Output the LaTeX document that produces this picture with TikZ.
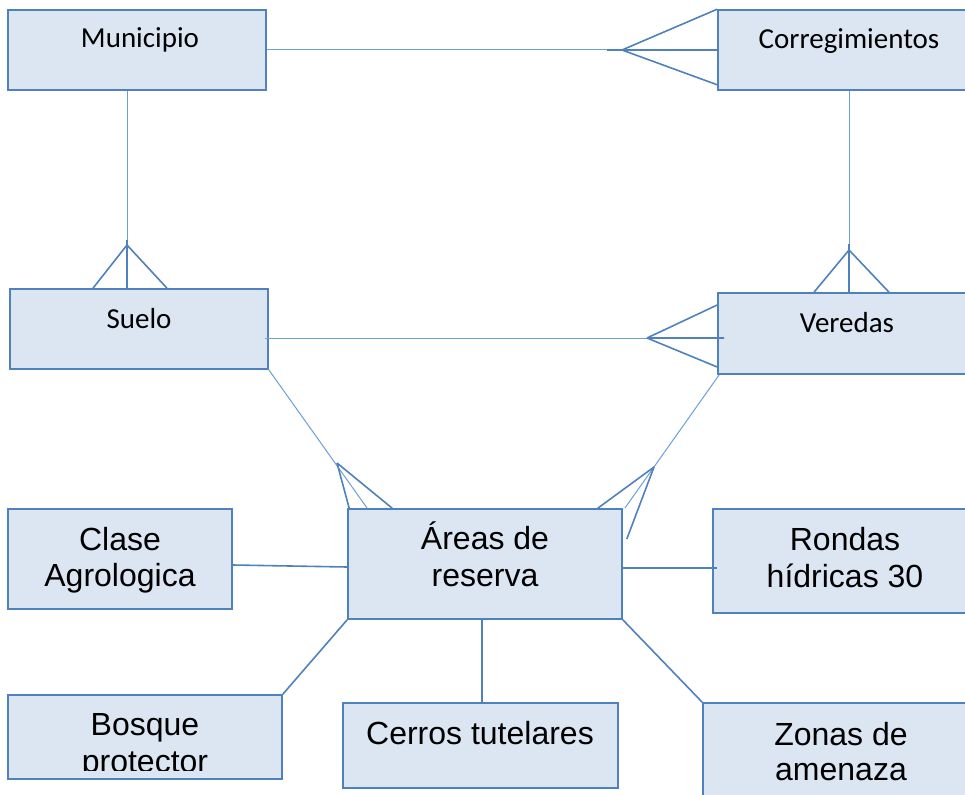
\documentclass[tikz,border=0pt]{standalone}
\usepackage{fontspec}
\setmainfont{Liberation Sans}
\newfontfamily\calibri{Carlito}
\usetikzlibrary{calc}
\definecolor{cajafondo}{HTML}{DCE6F2}
\definecolor{cajaborde}{HTML}{4F81BD}
\definecolor{lineaclara}{HTML}{6A9FD8}
\tikzset{
  entidad/.style={draw=cajaborde, fill=cajafondo, line width=1.6, inner sep=0},
  txtsup/.style={anchor=base, inner sep=0, font=\calibri\fontsize{29}{35}\selectfont},
  txtinf/.style={anchor=base, inner sep=0, font=\fontsize{32}{37}\selectfont},
  rel/.style={draw=lineaclara, line width=1},
  pata/.style={draw=cajaborde, line width=1.6},
  union/.style={draw=cajaborde, line width=1.6}
}

\begin{document}
\begin{tikzpicture}[x=1pt, y=-1pt]
\useasboundingbox (0,0) rectangle (965,794);
\clip (0,0) rectangle (965,794);
% cajas
\node[entidad, minimum width=258, minimum height=80] (municipio) at (137,50) {};
\node[entidad, minimum width=262, minimum height=80] (corregimientos) at (849,50) {};
\node[entidad, minimum width=258, minimum height=80] (suelo) at (139,329) {};
\node[entidad, minimum width=258, minimum height=81] (veredas) at (847,333.5) {};
\node[entidad, minimum width=274, minimum height=110] (areas) at (485,564) {};
\node[entidad, minimum width=224, minimum height=100] (clase) at (120,559) {};
\node[entidad, minimum width=264, minimum height=104] (rondas) at (845,561) {};
\node[entidad, minimum width=274, minimum height=84] (bosque) at (145,737) {};
\node[entidad, minimum width=275, minimum height=85] (cerros) at (480.5,745.5) {};
\node[entidad, minimum width=276, minimum height=104] (zonas) at (841,755) {};
% textos
\foreach \x/\y/\t [count=\i] in {140/48/Municipio, 849/49/Corregimientos, 139/328/Suelo, 847/332/Veredas}
  \node[txtsup] (ts\i) at (\x,\y) {\t};
\foreach \x/\y/\t [count=\i] in {485/549/Áreas de, 485/586/reserva, 120/550/Clase, 120/586/Agrologica,
    845/550/Rondas, 845/587/hídricas 30, 145/735/Bosque, 480/744/Cerros tutelares,
    841/745/Zonas de, 841/780/amenaza}
  \node[txtinf] (ti\i) at (\x,\y) {\t};
\begin{scope}
\clip (bosque.north west) rectangle ([yshift=9]bosque.south east);
\node[txtinf] (protector) at (145,772) {protector};
\end{scope}
% Municipio - Corregimientos
\coordinate (mc) at (622,50);
\draw[rel] (municipio.east) -- (mc);
\draw[pata] (mc) -- (corregimientos.north west) (mc) -- ([yshift=6]corregimientos.south west)
  ([xshift=-15]mc) -- (corregimientos.west);
% Municipio - Suelo
\coordinate (ms) at (127,245);
\draw[rel] (ms |- municipio.south) -- (ms);
\draw[pata] (ms) -- ([xshift=-46]suelo.north) (ms) -- ([xshift=28]suelo.north)
  ([yshift=5]ms) -- (ms |- suelo.north);
% Corregimientos - Veredas
\coordinate (cv) at (849,250);
\draw[rel] (corregimientos.south) -- (cv);
\draw[pata] (cv) -- ([xshift=-33]veredas.north) (cv) -- ([xshift=42]veredas.north)
  ([yshift=6]cv) -- (cv |- veredas.north);
% Suelo - Veredas
\coordinate (sv) at (647,338);
\draw[rel] ($(suelo.east |- sv)+(-4,0)$) -- (sv);
\draw[pata] (sv) -- ([yshift=28.5]veredas.west) (sv) -- ([yshift=-33.5]veredas.west)
  (sv) -- ($(veredas.west |- sv)+(7,0)$);
% Suelo - Areas
\coordinate (sa) at (337,463);
\draw[rel] (suelo.south east) -- ([xshift=20]areas.north west);
\draw[pata] (sa) -- ([xshift=2]areas.north west) (sa) -- ([xshift=45]areas.north west);
% Veredas - Areas
\coordinate (va) at (654,467);
\draw[rel] ([xshift=2]veredas.south west) -- ([xshift=2]areas.north east);
\draw[pata] (va) -- ([xshift=-25]areas.north east) (va) -- ([xshift=4,yshift=25]areas.east);
% Areas y las demas
\draw[union] ([yshift=-6]clase.east) -- ([yshift=-3]areas.west);
\draw[union] ([yshift=-4]areas.east) -- ([xshift=5,yshift=-7]rondas.west);
\draw[union] (areas.south west) -- (bosque.north east);
\draw[union] ($(cerros.north |- areas.south)+(1.5,0)$) -- ($(cerros.north)+(1.5,0)$);
\draw[union] (areas.south east) -- (zonas.north west);
\end{tikzpicture}
\end{document}
